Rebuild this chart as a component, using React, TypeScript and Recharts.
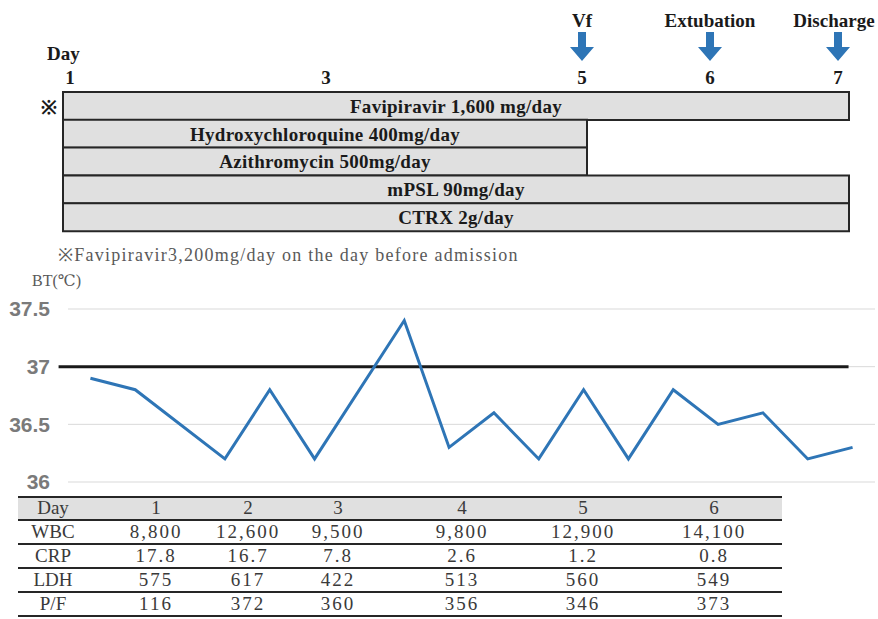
import React from 'react';
import {
  BarChart,
  Bar,
  LabelList,
  LineChart,
  Line,
  XAxis,
  YAxis,
  CartesianGrid,
  ReferenceLine,
} from 'recharts';

// medication timeline
const DRUG_NAMES = [
  'Favipiravir 1,600 mg/day',
  'Hydroxychloroquine 400mg/day',
  'Azithromycin 500mg/day',
  'mPSL 90mg/day',
  'CTRX 2g/day',
];
const DRUG_START = [1, 1, 1, 1, 1];
const DRUG_END = [7, 5, 5, 7, 7];
const DRUG_NOTES = ['※', '', '', '', ''];

const DAY_TICKS = [1, 3, 5, 6, 7];
const EVENT_DAYS = [5, 6, 7];
const EVENT_LABELS = ['Vf', 'Extubation', 'Discharge'];

// body temperature readings (slot = reading index)
const BT_SLOTS = [0, 1, 3, 4, 5, 7, 8, 9, 10, 11, 12, 13, 14, 15, 16, 17];
const BT_VALUES = [36.9, 36.8, 36.2, 36.8, 36.2, 37.4, 36.3, 36.6, 36.2, 36.8, 36.2, 36.8, 36.5, 36.6, 36.2, 36.3];
const BT_TICKS = [36, 36.5, 37, 37.5];
const BT_THRESHOLD = 37;

// lab table
const LAB_DAYS = ['1', '2', '3', '4', '5', '6'];
const WBC = ['8,800', '12,600', '9,500', '9,800', '12,900', '14,100'];
const CRP = ['17.8', '16.7', '7.8', '2.6', '1.2', '0.8'];
const LDH = ['575', '617', '422', '513', '560', '549'];
const PF = ['116', '372', '360', '356', '346', '373'];

const drugData = DRUG_NAMES.map((name, i) => ({
  name,
  range: [DRUG_START[i], DRUG_END[i]],
}));

const btData = BT_SLOTS.map((slot, i) => ({ slot, bt: BT_VALUES[i] }));

const labRows = [
  { label: 'WBC', values: WBC },
  { label: 'CRP', values: CRP },
  { label: 'LDH', values: LDH },
  { label: 'P/F', values: PF },
];

const SERIF = '"Liberation Serif", "DejaVu Serif", serif';
const BLUE = '#2e75b6';
const COL_CENTERS = [53, 156, 248, 338, 462, 583, 714];

function DayTick(props: any) {
  const { x, payload } = props;
  const idx = EVENT_DAYS.indexOf(payload.value);
  return (
    <g>
      <text x={x} y={84} textAnchor="middle" fontFamily={SERIF} fontWeight="bold" fontSize={19} fill="#1a1a1a">
        {payload.value}
      </text>
      {idx >= 0 && (
        <g>
          <text
            x={x + (idx === 2 ? -4 : 0)}
            y={27}
            textAnchor="middle"
            fontFamily={SERIF}
            fontWeight="bold"
            fontSize={19}
            fill="#1a1a1a"
          >
            {EVENT_LABELS[idx]}
          </text>
          <path
            d={`M${x - 4},32 L${x + 4},32 L${x + 4},47 L${x + 12},47 L${x},61 L${x - 12},47 L${x - 4},47 Z`}
            fill={BLUE}
          />
        </g>
      )}
    </g>
  );
}

function NoteTick(props: any) {
  const { x, y, payload } = props;
  const note = DRUG_NOTES[DRUG_NAMES.indexOf(payload.value)] || '';
  if (!note) return null;
  return (
    <text x={x} y={y} dy="0.4em" textAnchor="end" fontFamily={SERIF} fontWeight="bold" fontSize={19} fill="#1a1a1a">
      {note}
    </text>
  );
}

function LabCell({ left, top, height, text, spacing }: { left: number; top: number; height: number; text: string; spacing: number }) {
  return (
    <div
      style={{
        position: 'absolute',
        left: left - 70,
        width: 140,
        top,
        height,
        lineHeight: `${height}px`,
        textAlign: 'center',
        fontFamily: SERIF,
        fontSize: 19,
        letterSpacing: spacing,
        color: '#3a3a3a',
      }}
    >
      {text}
    </div>
  );
}

export default function App() {
  const rowTops = [521, 545, 569, 593];
  return (
    <div style={{ position: 'absolute', left: 0, top: 0, width: 878, height: 619, background: '#fff', overflow: 'hidden' }}>
      <div style={{ position: 'absolute', left: 47, top: 43, fontFamily: SERIF, fontWeight: 'bold', fontSize: 19, color: '#1a1a1a' }}>
        Day
      </div>

      <div style={{ position: 'absolute', left: 0, top: 0 }}>
        <BarChart
          layout="vertical"
          width={878}
          height={240}
          data={drugData}
          margin={{ top: 62, right: 29, bottom: 9, left: 0 }}
          barCategoryGap={0}
        >
          <XAxis xAxisId="bars" type="number" domain={[1, 7]} hide />
          <XAxis
            xAxisId="days"
            type="number"
            orientation="top"
            height={30}
            domain={[0.9453, 7.0859]}
            ticks={DAY_TICKS}
            tick={<DayTick />}
            axisLine={false}
            tickLine={false}
            allowDataOverflow
          />
          <YAxis
            type="category"
            dataKey="name"
            width={63}
            axisLine={false}
            tickLine={false}
            tickSize={0}
            tickMargin={6}
            interval={0}
            tick={<NoteTick />}
          />
          <Bar xAxisId="bars" dataKey="range" fill="#e0e0e0" stroke="#262626" strokeWidth={2} isAnimationActive={false}>
            <LabelList
              dataKey="name"
              position="center"
              fill="#1a1a1a"
              fontFamily={SERIF}
              fontWeight="bold"
              fontSize={19}
              letterSpacing={0.3}
            />
          </Bar>
        </BarChart>
      </div>

      <div style={{ position: 'absolute', left: 58, top: 242, fontFamily: SERIF, fontSize: 18, letterSpacing: 1.25, color: '#595959' }}>
        ※Favipiravir3,200mg/day on the day before admission
      </div>

      <div style={{ position: 'absolute', left: 0, top: 280 }}>
        <LineChart width={878} height={220} data={btData} margin={{ top: 29, right: 3, bottom: 18, left: 0 }}>
          <CartesianGrid vertical={false} stroke="#d9d9d9" />
          <XAxis type="number" dataKey="slot" domain={[-0.5, 17.5]} hide />
          <YAxis
            domain={[36, 37.5]}
            ticks={BT_TICKS}
            interval={0}
            width={68}
            axisLine={false}
            tickLine={false}
            tickMargin={12}
            tick={{ fill: '#7a7a7a', fontSize: 21, fontWeight: 'bold', fontFamily: '"Liberation Sans", Arial, sans-serif' }}
          />
          <ReferenceLine
            segment={[
              { x: -0.71, y: BT_THRESHOLD },
              { x: 16.91, y: BT_THRESHOLD },
            ]}
            stroke="#1a1a1a"
            strokeWidth={3}
            ifOverflow="visible"
          />
          <Line dataKey="bt" stroke={BLUE} strokeWidth={3} dot={false} isAnimationActive={false} />
        </LineChart>
      </div>

      <div style={{ position: 'absolute', left: 32, top: 271, fontFamily: SERIF, fontSize: 16, color: '#595959' }}>
        BT(℃)
      </div>

      {/* lab table */}
      <div style={{ position: 'absolute', left: 18, top: 497, width: 764, height: 22, background: '#e0e0e0' }} />
      {[496, 519, 543, 567, 591, 615].map((y, i) => (
        <div
          key={y}
          style={{ position: 'absolute', left: 18, top: y, width: 764, height: i === 0 ? 2 : 1.5, background: '#262626' }}
        />
      ))}
      <LabCell left={COL_CENTERS[0]} top={497} height={22} text="Day" spacing={0} />
      {LAB_DAYS.map((d, i) => (
        <LabCell key={d} left={COL_CENTERS[i + 1]} top={497} height={22} text={d} spacing={0} />
      ))}
      {labRows.map((row, r) => (
        <React.Fragment key={row.label}>
          <LabCell left={COL_CENTERS[0]} top={rowTops[r]} height={22} text={row.label} spacing={0} />
          {row.values.map((v, i) => (
            <LabCell key={i} left={COL_CENTERS[i + 1]} top={rowTops[r]} height={22} text={v} spacing={2} />
          ))}
        </React.Fragment>
      ))}
    </div>
  );
}
